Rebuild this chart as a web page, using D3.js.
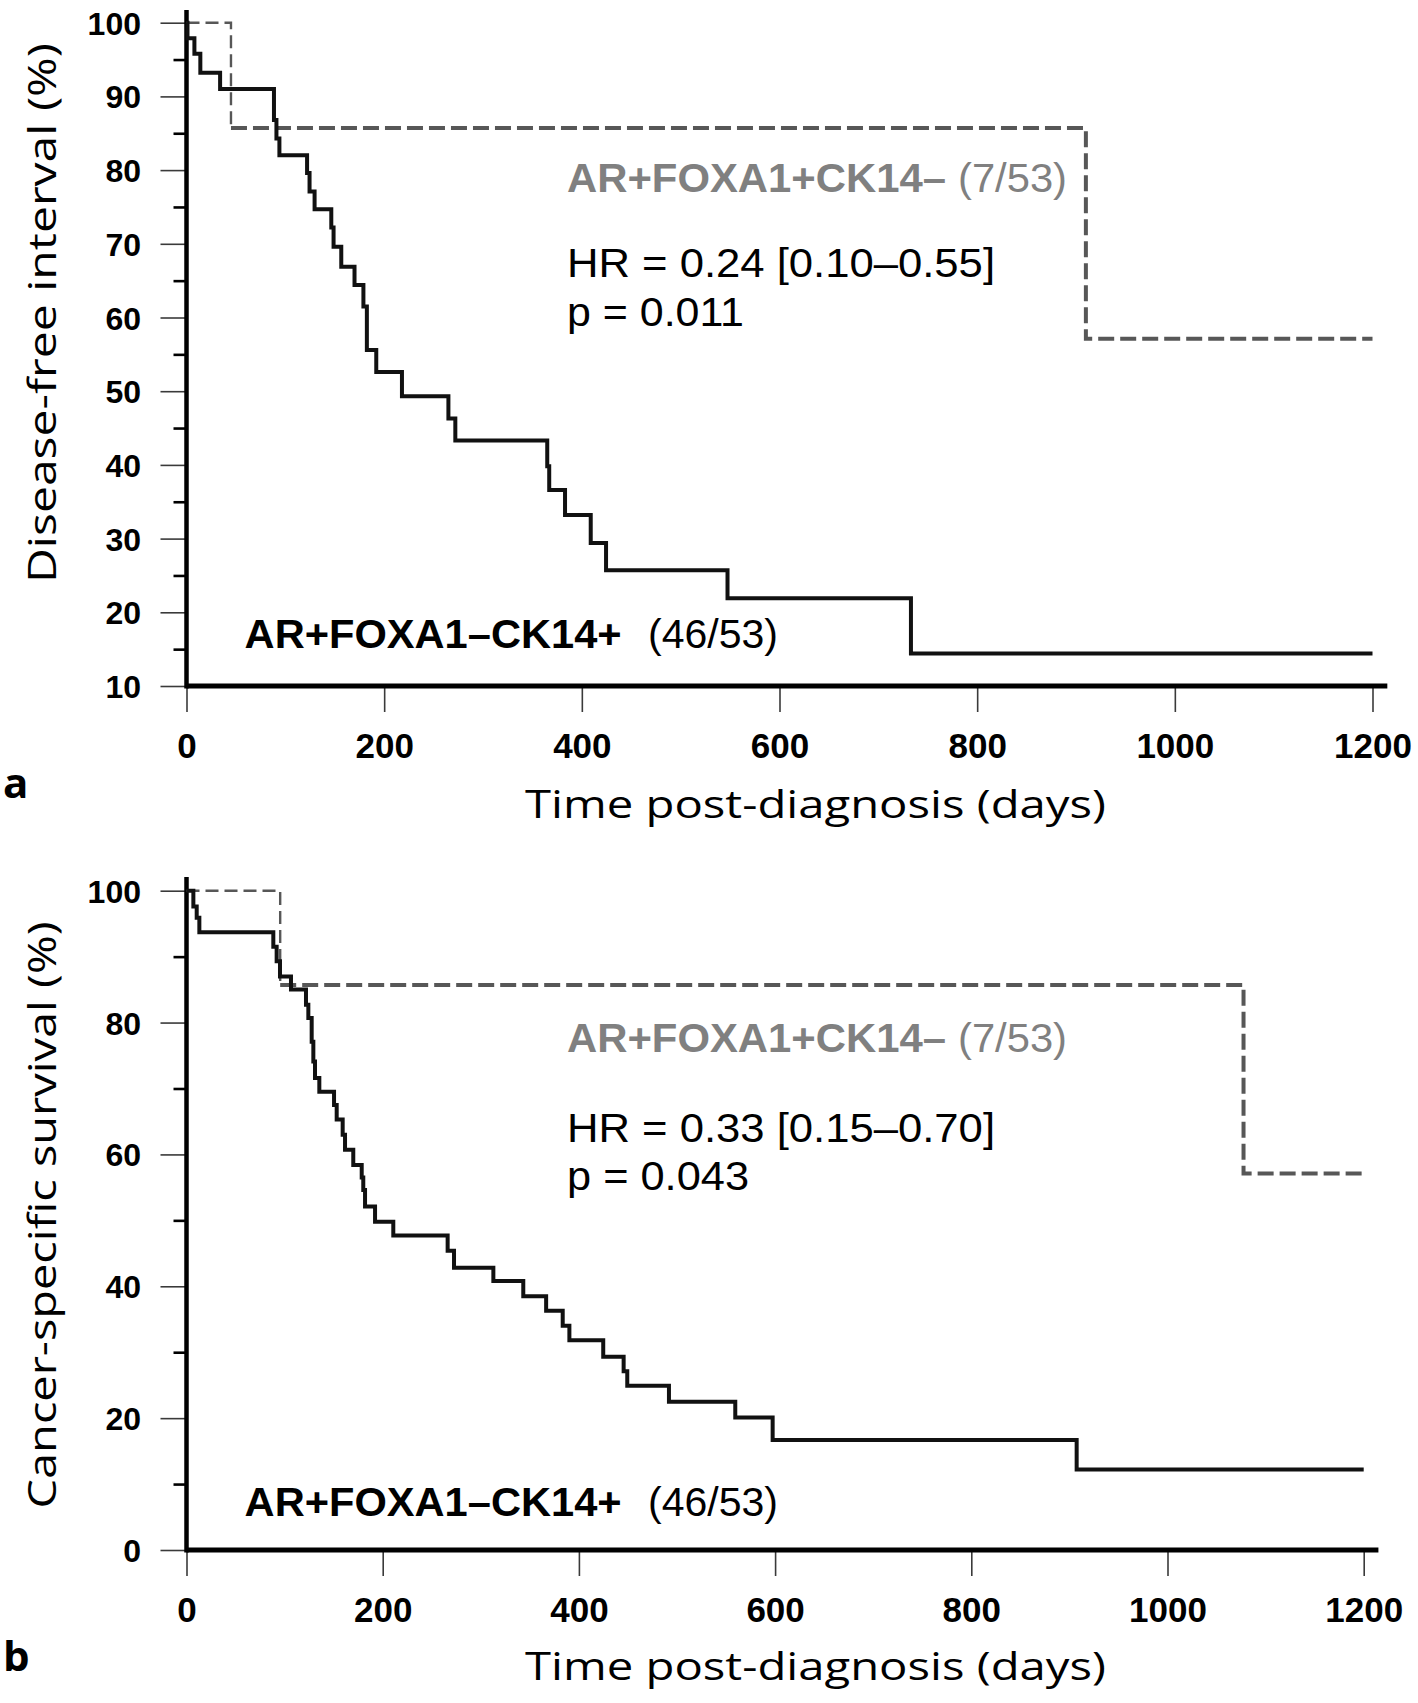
<!DOCTYPE html>
<html><head><meta charset="utf-8">
<script src="https://cdn.jsdelivr.net/npm/d3@7"></script>
<style>html,body{margin:0;padding:0;background:#fff;} svg{display:block;}</style>
</head><body>
<svg id="chart" width="1418" height="1703"></svg>
<script>
// ---------- data ----------
const dayTicks = [0, 200, 400, 600, 800, 1000, 1200];
const dfiTicks = [10, 20, 30, 40, 50, 60, 70, 80, 90, 100];
const dfiMinorTicks = [15, 25, 35, 45, 55, 65, 75, 85, 95];
const cssTicks = [0, 20, 40, 60, 80, 100];
const cssMinorTicks = [10, 30, 50, 70, 90];

// Panel a: disease-free interval
const dfiCK14Days = [0, 1, 8, 14, 34, 88.5, 91, 94, 122, 124.5, 129.6, 146.5, 148.8, 156.6, 170, 179, 182.5, 192, 218, 265, 272, 365, 367, 383, 409, 424.5, 547.4, 733, 1200];
const dfiCK14Pct  = [100, 97.9, 95.8, 93.2, 91.0, 86.8, 84.3, 82.0, 79.6, 77.1, 74.7, 72.2, 69.6, 66.9, 64.4, 61.5, 55.6, 52.6, 49.3, 46.3, 43.3, 39.8, 36.6, 33.2, 29.4, 25.7, 21.9, 14.4, 14.4];
const dfiFOXA1Days = [0, 45, 910, 1200];
const dfiFOXA1Pct  = [100, 85.7, 57.1, 57.1];

// Panel b: cancer-specific survival
const cssCK14Days = [0, 7, 10.4, 13.1, 88.5, 91.9, 95.3, 106.5, 121.8, 124.2, 127.6, 129.3, 131, 135.4, 150.4, 153.1, 159.2, 161.6, 170, 178.6, 180.2, 182, 192.2, 210.8, 266.2, 272.7, 312.8, 343.3, 366.6, 383.5, 390.3, 424.8, 445.6, 449.3, 491.8, 559.4, 597.5, 907.4, 1200];
const cssCK14Pct  = [100, 97.6, 95.9, 93.7, 91.5, 89.3, 87.0, 85.0, 82.7, 80.7, 77.1, 74.1, 71.6, 69.5, 67.5, 65.3, 63.0, 60.7, 58.4, 56.5, 54.6, 52.1, 49.8, 47.7, 45.4, 42.8, 40.8, 38.5, 36.3, 34.0, 31.8, 29.3, 27.1, 24.9, 22.5, 20.1, 16.7, 12.2, 12.2];
const cssFOXA1Days = [0, 95.5, 1077.5, 1200];
const cssFOXA1Pct  = [100, 85.7, 57.1, 57.1];

const xTitle = "Time post-diagnosis (days)";
const yTitles = ["Disease-free interval (%)", "Cancer-specific survival (%)"];
const groupFOXA1 = "AR+FOXA1+CK14\u2013";
const groupCK14 = "AR+FOXA1\u2013CK14+";
const countFOXA1 = "(7/53)";
const countCK14 = "(46/53)";
const hrTexts = ["HR = 0.24 [0.10\u20130.55]", "HR = 0.33 [0.15\u20130.70]"];
const pTexts = ["p = 0.011", "p = 0.043"];
const panelLetters = ["a", "b"];

// ---------- layout ----------
const svg = d3.select("#chart");
const tickFont = "'Liberation Sans', Arial, sans-serif";
const titleFont = "'Open Sans', 'Noto Sans', sans-serif";
const GRAY_TEXT = "#808080";
const DASH_COLOR = "#575757";

const panels = [
  {
    xRange: [186.5, 1372.5], yDomain: [10, 100], yRange: [686, 22.7], axisTop: 10,
    ticks: dfiTicks, minor: dfiMinorTicks,
    solid: [dfiCK14Days, dfiCK14Pct], dashed: [dfiFOXA1Days, dfiFOXA1Pct],
    yTitle: yTitles[0], yTitleCenter: 313, yTitleLen: 540,
    xTitleBase: 818, letterBase: 798,
    ann: {gray: 192, hr: 277, p: 325.5, black: 648.3, pLen: 177},
    hr: hrTexts[0], p: pTexts[0], letter: panelLetters[0]
  },
  {
    xRange: [186.5, 1363.7], yDomain: [0, 100], yRange: [1550, 890.7], axisTop: 877,
    ticks: cssTicks, minor: cssMinorTicks,
    solid: [cssCK14Days, cssCK14Pct], dashed: [cssFOXA1Days, cssFOXA1Pct],
    yTitle: yTitles[1], yTitleCenter: 1215, yTitleLen: 587,
    xTitleBase: 1680, letterBase: 1671,
    ann: {gray: 1051.7, hr: 1141.7, p: 1190, black: 1516, pLen: 182},
    hr: hrTexts[1], p: pTexts[1], letter: panelLetters[1]
  }
];

function fitText(g, x, y, str, len, opts) {
  const t = g.append("text")
    .attr("x", x).attr("y", y)
    .attr("font-family", opts.family)
    .attr("font-size", opts.size)
    .attr("font-weight", opts.weight || "normal")
    .attr("fill", opts.fill || "#000")
    .text(str);
  if (opts.anchor) t.attr("text-anchor", opts.anchor);
  if (len) t.attr("textLength", len).attr("lengthAdjust", "spacingAndGlyphs");
  if (opts.transform) t.attr("transform", opts.transform);
  return t;
}

panels.forEach(p => {
  const g = svg.append("g");
  const x = d3.scaleLinear().domain([0, 1200]).range(p.xRange);
  const y = d3.scaleLinear().domain(p.yDomain).range(p.yRange);
  const y0 = y(p.yDomain[0]);

  // major y ticks
  const yAxis = d3.axisLeft(y).tickValues(p.ticks).tickSize(26).tickPadding(19.5).tickFormat(d3.format("d"));
  const ya = g.append("g").attr("transform", `translate(${x(0)},0)`).call(yAxis);
  ya.select(".domain").remove();
  ya.selectAll(".tick line").attr("stroke", "#3a3a3a").attr("stroke-width", 1.6);
  ya.selectAll(".tick text")
    .attr("font-family", tickFont).attr("font-size", 32).attr("font-weight", "bold")
    .attr("fill", "#000").attr("dy", "0.36em");

  // minor y ticks
  const yMinor = d3.axisLeft(y).tickValues(p.minor).tickSize(13).tickFormat("");
  const ym = g.append("g").attr("transform", `translate(${x(0)},0)`).call(yMinor);
  ym.select(".domain").remove();
  ym.selectAll(".tick line").attr("stroke", "#000").attr("stroke-width", 2.6);

  // x ticks
  const xAxis = d3.axisBottom(x).tickValues(dayTicks).tickSize(26).tickFormat(d3.format("d"));
  const xa = g.append("g").attr("transform", `translate(0,${y0})`).call(xAxis);
  xa.select(".domain").remove();
  xa.selectAll(".tick line").attr("stroke", "#3a3a3a").attr("stroke-width", 1.6);
  xa.selectAll(".tick text")
    .attr("font-family", tickFont).attr("font-size", 35).attr("font-weight", "bold")
    .attr("fill", "#000").attr("y", 72).attr("dy", 0);

  // axis lines
  g.append("line").attr("x1", x(0)).attr("x2", x(1215)).attr("y1", y0).attr("y2", y0)
    .attr("stroke", "#000").attr("stroke-width", 5);
  g.append("line").attr("x1", x(0)).attr("x2", x(0)).attr("y1", p.axisTop).attr("y2", y0 + 2.5)
    .attr("stroke", "#000").attr("stroke-width", 4.5);

  // curves
  const line = d3.line().x(d => x(d[0])).y(d => y(d[1])).curve(d3.curveStepAfter);
  const dashedPts = d3.zip(p.dashed[0], p.dashed[1]);
  const solidPts = d3.zip(p.solid[0], p.solid[1]);
  // first step of the dashed curve is drawn thinner, as in the original
  g.append("path").attr("d", line(dashedPts.slice(0, 2))).attr("fill", "none")
    .attr("stroke", DASH_COLOR).attr("stroke-width", 2.4).attr("stroke-dasharray", "13,6");
  g.append("path").attr("d", line(dashedPts.slice(1))).attr("fill", "none")
    .attr("stroke", DASH_COLOR).attr("stroke-width", 4).attr("stroke-dasharray", "16,6");
  g.append("path").attr("d", line(solidPts)).attr("fill", "none")
    .attr("stroke", "#111").attr("stroke-width", 4).attr("stroke-linejoin", "miter");

  // annotations
  fitText(g, 567, p.ann.gray, groupFOXA1, 379, {family: tickFont, size: 40, weight: "bold", fill: GRAY_TEXT});
  fitText(g, 958, p.ann.gray, countFOXA1, 109, {family: tickFont, size: 40, fill: GRAY_TEXT});
  fitText(g, 567, p.ann.hr, p.hr, 428, {family: tickFont, size: 40, fill: "#000"});
  fitText(g, 567, p.ann.p, p.p, p.ann.pLen, {family: tickFont, size: 40, fill: "#000"});
  fitText(g, 244.6, p.ann.black, groupCK14, 377, {family: tickFont, size: 40, weight: "bold", fill: "#000"});
  fitText(g, 648, p.ann.black, countCK14, 130, {family: tickFont, size: 40, fill: "#000"});

  // titles
  fitText(g, 815.5, p.xTitleBase, xTitle, 581, {family: titleFont, size: 39, anchor: "middle", fill: "#000"});
  fitText(g, 0, 0, p.yTitle, p.yTitleLen, {family: titleFont, size: 39, anchor: "middle", fill: "#000",
    transform: `translate(56,${p.yTitleCenter}) rotate(-90)`});
  fitText(g, 3, p.letterBase, p.letter, null, {family: titleFont, size: 42, weight: "bold", fill: "#000"});
});
</script>
</body></html>
